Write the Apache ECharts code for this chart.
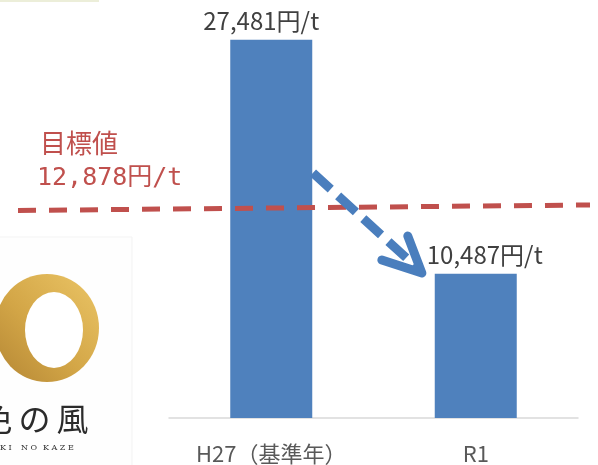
<!DOCTYPE html>
<html>
<head>
<meta charset="utf-8">
<script src="https://cdn.jsdelivr.net/npm/echarts@6/dist/echarts.min.js"></script>
<style>
html,body{margin:0;padding:0;background:#ffffff;}
#chart{width:598px;height:465px;}
</style>
</head>
<body>
<div id="chart"></div>
<script>
// ---- data ----
const categories = ['H27（基準年）', 'R1'];
const values = [27481, 10487];
const unitSuffix = '円/t';
const targetValue = 12878;
const targetTitle = '目標値';
// target line as drawn in the picture (x in category units, y in 円/t), slightly sloped
const targetLineX = [-1.24, 1.56];
const targetLineY = [15110, 15510];
// dashed arrow from the H27 bar towards the R1 bar (category units, 円/t)
const arrowShaftX = [0.204, 0.715];
const arrowShaftY = [17830, 10950];
const arrowHeadX = [0.541, 0.737, 0.668];
const arrowHeadY = [11520, 10580, 13260];

const fmt = v => v.toLocaleString('en-US');
const labelOffsets = [[-10, 0], [9, 0]];

const chart = echarts.init(document.getElementById('chart'), null, {renderer: 'canvas'});

const mainGrid = {left: 169, right: 20, top: 5, bottom: 46};
// overlay grid: same vertical scale, horizontal scale in category units spanning the full annotation width
const overlayGrid = {left: 18, right: 8, top: 5, bottom: 46};

const option = {
  backgroundColor: '#ffffff',
  animation: false,
  grid: [mainGrid, overlayGrid],
  xAxis: [
    {
      type: 'category', gridIndex: 0, data: categories,
      axisLine: {lineStyle: {color: '#D9D9D9', width: 1.5}},
      axisTick: {show: false},
      axisLabel: {color: '#595959', fontSize: 22, margin: 25,
        fontFamily: '"Noto Sans CJK JP", "Noto Sans", sans-serif'}
    },
    {type: 'value', gridIndex: 1, min: targetLineX[0], max: targetLineX[1], show: false}
  ],
  yAxis: [
    {type: 'value', gridIndex: 0, min: 0, max: 30000, show: false},
    {type: 'value', gridIndex: 1, min: 0, max: 30000, show: false}
  ],
  series: [
    {
      type: 'bar', xAxisIndex: 0, yAxisIndex: 0, barWidth: 82,
      itemStyle: {color: '#4F81BD'},
      data: values.map((v, i) => ({
        value: v,
        label: {
          show: true, position: 'top', distance: 7,
          offset: labelOffsets[i],
          formatter: fmt(v) + unitSuffix,
          color: '#404040', fontSize: 24,
          fontFamily: '"Noto Sans CJK JP", "Noto Sans", sans-serif'
        }
      })),
      z: 2
    },
    {
      type: 'line', xAxisIndex: 1, yAxisIndex: 1, clip: false,
      symbol: 'none', silent: true,
      lineStyle: {color: '#C0504D', width: 5, type: [18, 13]},
      data: targetLineX.map((x, i) => [x, targetLineY[i]]),
      z: 5
    },
    {
      type: 'line', xAxisIndex: 1, yAxisIndex: 1, clip: false,
      symbol: 'none', silent: true,
      lineStyle: {color: '#4A7EBD', width: 9, type: [24, 10]},
      data: arrowShaftX.map((x, i) => [x, arrowShaftY[i]]),
      z: 6
    },
    {
      type: 'line', xAxisIndex: 1, yAxisIndex: 1, clip: false,
      symbol: 'none', silent: true,
      lineStyle: {color: '#4A7EBD', width: 9, cap: 'round', join: 'round'},
      data: arrowHeadX.map((x, i) => [x, arrowHeadY[i]]),
      z: 6
    }
  ],
  graphic: [
    // faint strip at top-left
    {type: 'rect', shape: {x: 0, y: 0, width: 99, height: 2}, style: {fill: '#ECEED9'}, z: 1},
    // target annotation text
    {type: 'text', x: 40, y: 143, style: {text: targetTitle, fill: '#C0504D', font: '26px "Noto Sans CJK JP"', verticalAlign: 'middle'}, z: 10},
    {type: 'text', x: 37, y: 178, style: {text: fmt(targetValue) + unitSuffix, fill: '#C0504D', font: '25px "DejaVu Sans Mono", "Noto Sans CJK JP"', verticalAlign: 'middle'}, z: 10},
    // logo (decorative)
    {type: 'rect', shape: {x: -2, y: 237, width: 134, height: 240}, style: {fill: '#FEFEFE', stroke: '#F3F3F3', lineWidth: 1}, z: 0},
    {type: 'circle', x: 47, y: 328, scaleX: 1, scaleY: 54 / 52, shape: {cx: 0, cy: 0, r: 52},
      style: {fill: {type: 'linear', x: 0, y: 1, x2: 1, y2: 0, colorStops: [
        {offset: 0, color: '#B48634'}, {offset: 0.45, color: '#D3A647'}, {offset: 1, color: '#EBC566'}]}}, z: 1},
    {type: 'circle', x: 54, y: 330, scaleX: 1, scaleY: 38 / 29, shape: {cx: 0, cy: 0, r: 29},
      style: {fill: '#FFFFFF'}, z: 1},
    {type: 'text', x: -3.5, y: 419, style: {text: '色', fill: '#2b2b2b', font: '32px "Noto Sans CJK JP"', align: 'center', verticalAlign: 'middle'}, z: 2},
    {type: 'text', x: 34.5, y: 419, style: {text: 'の', fill: '#2b2b2b', font: '32px "Noto Sans CJK JP"', align: 'center', verticalAlign: 'middle'}, z: 2},
    {type: 'text', x: 72.5, y: 419, style: {text: '風', fill: '#2b2b2b', font: '32px "Noto Sans CJK JP"', align: 'center', verticalAlign: 'middle'}, z: 2},
    {type: 'text', x: 0, y: 448, style: {text: 'K I', fill: '#333333', font: '8px "DejaVu Serif"', verticalAlign: 'middle'}, z: 2},
    {type: 'text', x: 21, y: 448, style: {text: 'N O', fill: '#333333', font: '8px "DejaVu Serif"', verticalAlign: 'middle'}, z: 2},
    {type: 'text', x: 43, y: 448, style: {text: 'K A Z E', fill: '#333333', font: '8px "DejaVu Serif"', verticalAlign: 'middle'}, z: 2}
  ]
};

chart.setOption(option);
</script>
</body>
</html>
